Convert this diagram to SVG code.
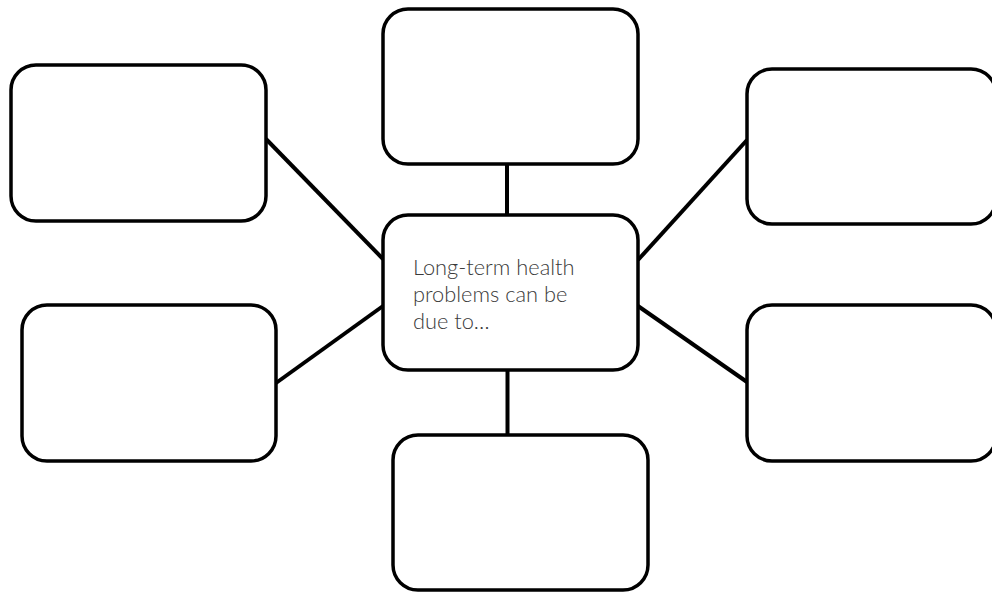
<svg xmlns="http://www.w3.org/2000/svg" width="992" height="592" viewBox="0 0 992 592">
<style>
.box{fill:#fff;stroke:#000;stroke-width:3.5}
.conn line{stroke:#000;stroke-width:4}
.lbl{font-family:Lato,"Open Sans","Liberation Sans",sans-serif;font-weight:300;font-size:21.8px;fill:#3a3a3a}
</style>
<rect width="992" height="592" fill="#fff"/>
<g id="connectors" class="conn">
<line x1="266" y1="139" x2="383" y2="259"/>
<line x1="276" y1="383" x2="383" y2="306"/>
<line x1="638" y1="260" x2="747" y2="140"/>
<line x1="638" y1="306" x2="747" y2="382"/>
<line x1="507" y1="164" x2="507" y2="215"/>
<line x1="507.5" y1="370" x2="507.5" y2="435"/>
</g>
<g id="node-top-left"><rect class="box" x="11" y="65" width="255" height="156" rx="25"/></g>
<g id="node-top"><rect class="box" x="383" y="9" width="255" height="155" rx="25"/></g>
<g id="node-top-right"><rect class="box" x="747" y="69" width="249" height="155" rx="25"/></g>
<g id="node-bottom-left"><rect class="box" x="22" y="305" width="254" height="156" rx="25"/></g>
<g id="node-bottom"><rect class="box" x="393" y="435" width="255" height="155" rx="25"/></g>
<g id="node-bottom-right"><rect class="box" x="747" y="305" width="249" height="156" rx="25"/></g>
<g id="node-center"><rect class="box" x="383" y="215" width="255" height="155" rx="25"/>
<text class="lbl" x="413" y="275">Long-term health</text>
<text class="lbl" x="413" y="302">problems can be</text>
<text class="lbl" x="413" y="329">due to…</text>
</g>
</svg>
